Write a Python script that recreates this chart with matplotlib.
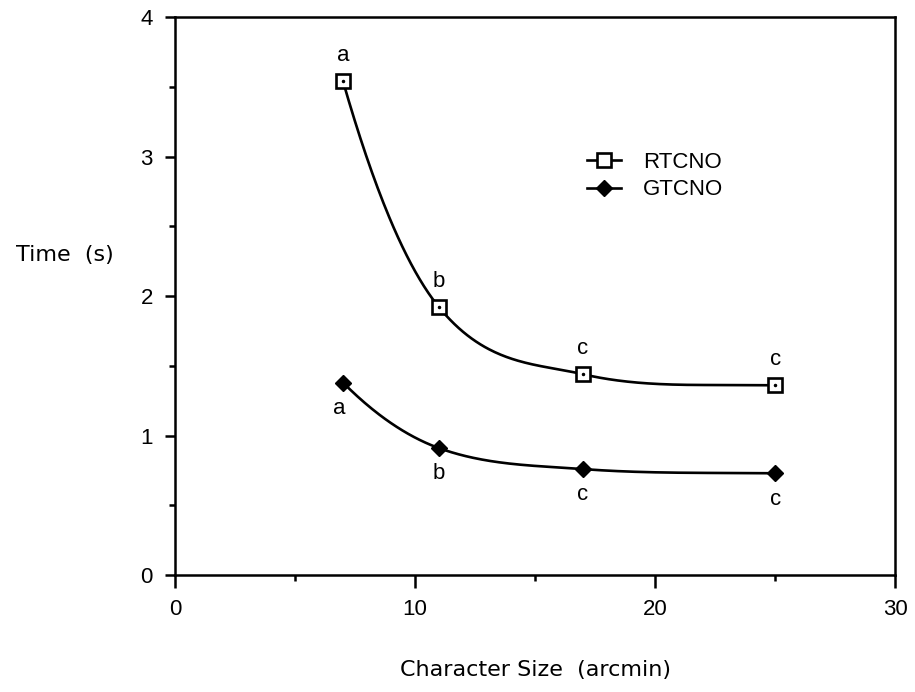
import numpy as np
import matplotlib
matplotlib.use('Agg')
import matplotlib.pyplot as plt
from matplotlib.lines import Line2D

plt.rcParams['font.family'] = ['Liberation Sans', 'DejaVu Sans']

# Data
char_size = [7, 11, 17, 25]
rtcno = [3.54, 1.92, 1.44, 1.36]
gtcno = [1.38, 0.91, 0.76, 0.73]
rtcno_letters = ['a', 'b', 'c', 'c']
gtcno_letters = ['a', 'b', 'c', 'c']


def smooth(x, y, xs):
    # cubic Hermite curve through the points (for the smooth line)
    x = np.asarray(x, float)
    y = np.asarray(y, float)
    h = np.diff(x)
    d = np.diff(y) / h
    m = np.zeros_like(y)
    for k in range(1, len(x) - 1):
        m[k] = (y[k + 1] - y[k - 1]) / (x[k + 1] - x[k - 1])
    m[0] = 2 * d[0] - m[1]
    m[-1] = d[-1] * 0.5
    ys = np.empty_like(xs)
    for i, xv in enumerate(xs):
        k = min(np.searchsorted(x, xv, side='right') - 1, len(x) - 2)
        t = (xv - x[k]) / h[k]
        h00 = 2 * t**3 - 3 * t**2 + 1
        h10 = t**3 - 2 * t**2 + t
        h01 = -2 * t**3 + 3 * t**2
        h11 = t**3 - t**2
        ys[i] = h00 * y[k] + h10 * h[k] * m[k] + h01 * y[k + 1] + h11 * h[k] * m[k + 1]
    return ys


fig = plt.figure(figsize=(9.15, 6.92), dpi=100)
ax = fig.add_axes([0.1913, 0.169, 0.787, 0.806])

xs = np.linspace(char_size[0], char_size[-1], 300)
ax.plot(xs, smooth(char_size, rtcno, xs), color='black', lw=1.9, zorder=2)
ax.plot(xs, smooth(char_size, gtcno, xs), color='black', lw=1.9, zorder=2)

ax.plot(char_size, rtcno, ls='none', marker='s', ms=10, mfc='white', mec='black', mew=1.9, zorder=3)
ax.plot(char_size, rtcno, ls='none', marker='.', ms=3, color='black', zorder=4)
ax.plot(char_size, gtcno, ls='none', marker='D', ms=8.5, color='black', zorder=3)

for x, y, s in zip(char_size, rtcno, rtcno_letters):
    ax.annotate(s, (x, y), xytext=(0, 11), textcoords='offset points',
                ha='center', va='bottom', fontsize=16)
for i, (x, y, s) in enumerate(zip(char_size, gtcno, gtcno_letters)):
    dx = -3 if i == 0 else 0
    ax.annotate(s, (x, y), xytext=(dx, -11), textcoords='offset points',
                ha='center', va='top', fontsize=16)

ax.set_xlim(0, 30)
ax.set_ylim(0, 4)
ax.set_xticks([0, 10, 20, 30])
ax.set_xticks([5, 15, 25], minor=True)
ax.set_yticks([0, 1, 2, 3, 4])
ax.set_yticks([0.5, 1.5, 2.5, 3.5], minor=True)
ax.tick_params(axis='both', which='major', labelsize=16, width=1.8, direction='out')
ax.tick_params(axis='x', which='major', length=9, pad=8)
ax.tick_params(axis='y', which='major', length=7, pad=9)
ax.tick_params(axis='both', which='minor', length=4, width=1.8, direction='out')
for sp in ax.spines.values():
    sp.set_linewidth(1.8)

handles = [
    Line2D([], [], color='black', lw=1.9, marker='s', ms=10, mfc='white', mec='black', mew=1.9),
    Line2D([], [], color='black', lw=1.9, marker='D', ms=8.5),
]
ax.legend(handles, ['RTCNO', 'GTCNO'], loc='upper left', bbox_to_anchor=(0.545, 0.795),
          frameon=False, fontsize=16, handlelength=1.5, handletextpad=1.0, labelspacing=0.3)

fig.text(535 / 915, 1 - 670 / 692, 'Character Size  (arcmin)', ha='center', va='center',
         fontsize=16, family='DejaVu Sans')
fig.text(65 / 915, 1 - 255 / 692, 'Time  (s)', ha='center', va='center',
         fontsize=16, family='DejaVu Sans')

plt.savefig('out.png', dpi=100)
